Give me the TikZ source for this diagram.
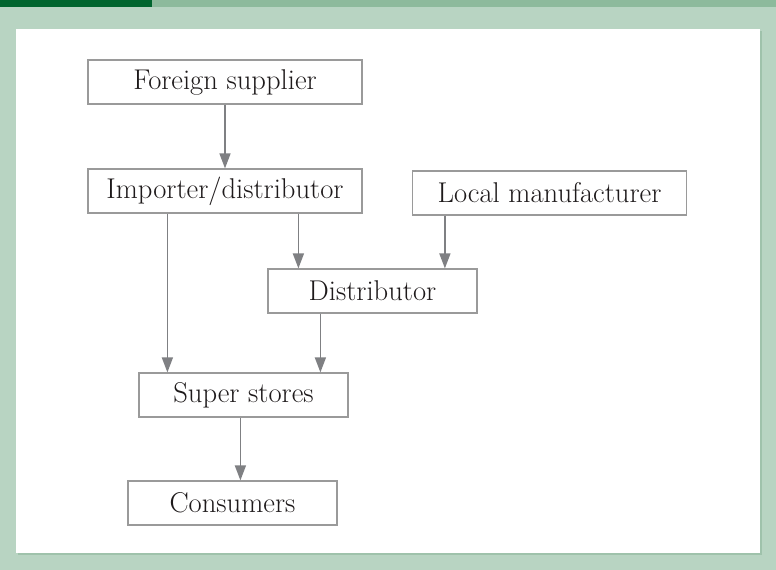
\documentclass[tikz,border=0pt]{standalone}
\usetikzlibrary{arrows.meta}

\definecolor{pagegreen}{HTML}{B8D4C2}
\definecolor{stripgreen}{HTML}{8DBA9C}
\definecolor{labelgreen}{HTML}{00652E}
\definecolor{shadowgreen}{HTML}{9FC2AB}
\definecolor{boxgray}{HTML}{9A9A9A}
\definecolor{linegray}{HTML}{7F8083}
\definecolor{inkgray}{HTML}{1E1A1B}

\tikzset{
  box/.style={draw=boxgray, line width=1.2bp, fill=white, inner sep=0pt,
    minimum height=44bp, font=\fontsize{28.7}{32}\selectfont, text=inkgray},
  widebox/.style={box, minimum width=274bp},
  narrowbox/.style={box, minimum width=209bp},
  flow/.style={draw=linegray, line width=1.5bp, ->},
}

\begin{document}
\begin{tikzpicture}[x=1bp,y=-1bp,>={Triangle[length=15bp,width=11bp]}]

\fill[pagegreen] (0,0) rectangle (776,570);
\useasboundingbox (0,0) rectangle (776,570);
\fill[stripgreen] (0,0) rectangle (776,7);
\fill[labelgreen] (0,0) rectangle (152,7);
\fill[shadowgreen] (18,31) rectangle (762,555);
\fill[white] (16,29) rectangle (760,553);

\node[widebox] (fs) at (225,82) {Foreign supplier};
\node[widebox] (imp) at (225,191) {Importer/distributor};
\node[widebox] (lm) at (549.5,193) {Local manufacturer};
\node[narrowbox] (dist) at (372.5,291) {Distributor};
\node[narrowbox] (ss) at (243.5,395) {Super stores};
\node[narrowbox] (cons) at (232.5,503) {Consumers};

\draw[flow] (fs) -- (imp);
\draw[flow] ([xshift=80bp]imp.south west) -- ([xshift=80bp]imp.south west |- ss.north);
\draw[flow] ([xshift=211bp]imp.south west) -- ([xshift=211bp]imp.south west |- dist.north);
\draw[flow] ([xshift=33bp]lm.south west) -- ([xshift=33bp]lm.south west |- dist.north);
\draw[flow] ([xshift=53bp]dist.south west) -- ([xshift=53bp]dist.south west |- ss.north);
\draw[flow] ([xshift=102bp]ss.south west) -- ([xshift=102bp]ss.south west |- cons.north);

\end{tikzpicture}
\end{document}
